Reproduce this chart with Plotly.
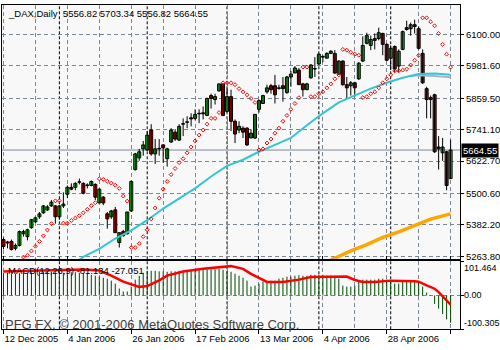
import plotly.graph_objects as go

# ---------------- data ----------------
opens = [5327,5318,5320,5294,5305,5349,5338,5372,5394,5413,5428,5439,5454,5454,5413,5454,5498,5524,5524,5543,
         5539,5531,5531,5535,5465,5487,5424,5413,5439,5316,5357,5349,5435,5591,5635,5669,5665,5740,5650,5669,
         5684,5632,5695,5732,5702,5762,5769,5786,5784,5803,5801,5795,5870,5855,5888,5914,5810,5866,5773,5740,
         5747,5747,5710,5710,5818,5840,5884,5907,5907,5899,5907,5881,5940,5955,5966,5914,5892,5937,5970,5989,
         6015,6011,6029,6029,5951,6000,5911,5907,5918,5933,6000,6067,6059,6085,6085,6104,6063,6011,6055,5981,
         6044,6126,6122,6137,6122,6029,5896,5862,5873,5676,5654,5658,5556.82]
highs = [5335,5322,5327,5312,5361,5364,5368,5405,5413,5431,5457,5457,5476,5457,5457,5505,5531,5539,5543,5557,
         5543,5539,5550,5539,5520,5491,5431,5439,5450,5353,5364,5431,5550,5654,5669,5699,5736,5762,5706,5706,
         5687,5673,5747,5743,5762,5784,5792,5803,5818,5818,5829,5862,5877,5877,5914,5914,5896,5892,5780,5773,
         5754,5751,5743,5799,5855,5873,5911,5914,5948,5911,5940,5944,5963,5981,5974,5918,5918,5989,6015,6029,
         6022,6033,6041,6041,6003,6003,5940,5925,5922,5996,6093,6107,6096,6104,6126,6107,6067,6059,6059,6044,
         6115,6152,6145,6156,6130,6044,5903,5870,5877,5717,5710,5661,5703.34]
lows = [5290,5294,5286,5286,5301,5338,5324,5368,5390,5405,5424,5435,5450,5387,5402,5446,5483,5513,5513,5535,
        5498,5520,5528,5476,5465,5457,5368,5405,5353,5297,5338,5346,5431,5587,5624,5643,5661,5643,5612,5643,
        5617,5602,5691,5699,5699,5717,5747,5754,5777,5766,5780,5792,5821,5836,5884,5792,5806,5736,5691,5728,
        5710,5680,5710,5706,5806,5840,5877,5877,5840,5892,5847,5877,5903,5955,5911,5866,5892,5933,5940,5985,
        5996,6011,6026,5951,5948,5907,5859,5870,5866,5929,5996,6063,6041,6044,6078,6022,6000,5966,5959,5959,
        6041,6115,6096,6104,6044,5914,5784,5784,5654,5591,5624,5513,5556.82]
closes = [5301,5314,5290,5305,5357,5357,5364,5402,5409,5424,5454,5450,5468,5413,5454,5461,5524,5517,5539,5545,
          5502,5533,5546,5487,5517,5465,5405,5435,5353,5353,5342,5431,5546,5650,5658,5684,5721,5650,5669,5671,
          5673,5669,5740,5706,5754,5764,5771,5782,5799,5801,5805,5859,5859,5866,5914,5795,5866,5773,5725,5754,
          5732,5684,5728,5799,5851,5870,5899,5892,5873,5897,5896,5940,5951,5974,5911,5892,5914,5985,5972,6026,
          6017,6029,6037,5955,6000,5911,5899,5918,5899,5992,6059,6096,6081,6078,6107,6063,6003,6048,5970,6037,
          6111,6119,6137,6130,6048,5918,5855,5855,5658,5669,5676,5531,5664.55]

sar = [None]*5 + [5261,5268,5284,5302,5320,5341,5363,5387,5473,5473,
       5389,5389,5399,5408,5417,5428,5441,5455,5466,5556,
       5554,5547,5540,5532,5520,5491,5472,5297,5297,5312,
       5338,5364,5405,5446,5483,5517,5546,5572,5595,5617,
       5632,5654,5676,5699,5721,5740,5762,5784,5784,5806,
       5918,5918,5918,5911,5896,5884,5873,5859,5844,5665,
       5669,5691,5706,5728,5747,5773,5795,5818,5840,5862,
       5977,5977,5866,5866,5877,5884,5899,5914,5933,5948,
       6044,6041,6033,6026,6022,5862,5866,5877,5884,5899,
       5918,5933,5948,5963,5963,5966,5970,5985,6003,6022,
       6163,6163,6148,6133,6104,6063,6026,5977]

ma_cyan_bars = [19,20,24,28,32,36,40,44,48,52,56,60,64,68,72,76,80,84,88,92,96,100,104,108,112]
ma_cyan = [5250,5262,5292,5331,5362,5400,5444,5483,5520,5565,5605,5628,5658,5684,5710,5758,5803,5844,5870,5896,5918,5937,5951,5953,5948]
ma_gray_bars = [102,104,108,112]
ma_gray = [5944,5947,5944,5939]
ma_orange_bars = [82,84,87,91,95,99,103,107,112]
ma_orange = [5250,5265,5284,5308,5335,5356,5380,5404,5424]

macd_hist = [67.3,67.3,64.3,64.3,65.8,67.3,67.3,68.7,68.7,70.2,70.2,70.2,70.2,68.7,67.3,67.3,68.7,68.7,68.7,67.3,
             65.8,64.3,61.4,58.5,55.6,52.6,49.7,43.9,35.1,20.5,11.7,11.7,26.3,46.8,58.5,67.3,73.1,73.1,73.1,71.6,
             71.6,70.2,71.6,71.6,73.1,73.1,74.6,74.6,76.0,76.0,76.0,77.5,77.5,77.5,78.9,76.0,73.1,70.2,64.3,58.5,
             52.6,43.9,26.3,29.2,35.1,40.9,42.4,43.9,43.9,49.7,52.6,55.6,55.6,58.5,59.9,58.5,58.5,61.4,61.4,61.4,
             61.4,58.5,58.5,55.6,49.7,29.2,26.3,26.3,29.2,40.9,46.8,46.8,46.8,46.8,49.7,49.7,46.8,40.9,35.1,35.1,
             40.9,43.9,43.9,43.9,40.9,26.3,8.8,1.0,-25.0,-39.0,-55.0,-71.0,-81.134]
signal_bars = [0,6,12,20,24,27,30,33,34,36,39,41,45,50,54,57,60,62,64,66,70,74,77,86,88,90,93,97,103,104,106,108,109,110,111,112]
signal_vals = [71,73,74,77,74,59,41,29,25,28,45,59,71,79,84,87,79,64,52,40,40,47,55,56,46,40,40,44,42,41,30,20,10,-2,-13,-27.051]

month_starts = [14, 36, 56, 79, 97]
x_tick_bars = [0, 16, 32, 48, 64, 80, 96, 112]
x_tick_labels = ["12 Dec 2005", "4 Jan 2006", "26 Jan 2006", "17 Feb 2006",
                 "13 Mar 2006", "4 Apr 2006", "28 Apr 2006", "23 May 2006"]
x_minor_bars = [8, 24, 40, 56, 72, 88, 104]
price_ticks = [6100.00, 5981.60, 5859.50, 5741.10, 5622.70, 5500.60, 5382.20, 5263.80]
macd_ticks = [101.464, 0.0, -100.305]
macd_labels = ["101.464", "0.00", "-100.305"]
title_text = "_DAX,Daily&nbsp;&nbsp;5556.82 5703.34 5556.82 5664.55"
macd_text = "MACD(12,26,9) -81.134 -27.051"
copyright_text = "PFG FX, \u00a9 2001-2006 MetaQuotes Software Corp."

# ---------------- styling ----------------
FONT = "Liberation Sans"
GRID = "#7b8797"
BG = "#f8f8f8"
UP = "#22dd22"
DOWN = "#e00000"

n = len(opens)
idx = list(range(n))

fig = go.Figure()

# wicks
wx, wy = [], []
for i in idx:
    wx += [i, i, None]
    wy += [lows[i], highs[i], None]
fig.add_trace(go.Scatter(x=wx, y=wy, mode="lines", line=dict(color="black", width=1),
                         hoverinfo="skip", showlegend=False, xaxis="x", yaxis="y"))

# bodies
up_i = [i for i in idx if closes[i] >= opens[i]]
dn_i = [i for i in idx if closes[i] < opens[i]]
fig.add_trace(go.Bar(x=up_i, base=[opens[i] for i in up_i],
                     y=[closes[i] - opens[i] for i in up_i], width=0.75,
                     marker=dict(color=UP, line=dict(color="black", width=1)),
                     showlegend=False, xaxis="x", yaxis="y"))
fig.add_trace(go.Bar(x=dn_i, base=[closes[i] for i in dn_i],
                     y=[opens[i] - closes[i] for i in dn_i], width=0.75,
                     marker=dict(color=DOWN, line=dict(color="black", width=1)),
                     showlegend=False, xaxis="x", yaxis="y"))

# moving averages
fig.add_trace(go.Scatter(x=ma_gray_bars, y=ma_gray, mode="lines",
                         line=dict(color="#a8b4c0", width=2), showlegend=False, xaxis="x", yaxis="y"))
fig.add_trace(go.Scatter(x=ma_cyan_bars, y=ma_cyan, mode="lines",
                         line=dict(color="#33c6d2", width=2), showlegend=False, xaxis="x", yaxis="y"))
fig.add_trace(go.Scatter(x=ma_orange_bars, y=ma_orange, mode="lines",
                         line=dict(color="#ffa500", width=3.5), showlegend=False, xaxis="x", yaxis="y"))

# parabolic SAR
fig.add_trace(go.Scatter(x=idx, y=sar, mode="markers",
                         marker=dict(symbol="diamond-open", size=3, color="#ff0000",
                                     line=dict(color="#ff0000", width=1)),
                         showlegend=False, xaxis="x", yaxis="y"))

# MACD histogram (thin 1px lines from zero) + signal
hx, hy = [], []
for i in idx:
    hx += [i, i, None]
    hy += [0, macd_hist[i], None]
fig.add_trace(go.Scatter(x=hx, y=hy, mode="lines", line=dict(color="#004800", width=1),
                         hoverinfo="skip", showlegend=False, xaxis="x", yaxis="y2"))
fig.add_trace(go.Scatter(x=signal_bars, y=signal_vals, mode="lines",
                         line=dict(color="#ff0000", width=2.5), showlegend=False,
                         xaxis="x", yaxis="y2"))

shapes = []
# current price line
shapes.append(dict(type="line", xref="x domain", x0=0, x1=1, yref="y",
                   y0=closes[-1], y1=closes[-1], line=dict(color="#7b8797", width=1), layer="below"))
# month separators
for m in month_starts:
    for yr in ("y domain", "y2 domain"):
        shapes.append(dict(type="line", xref="x", x0=m, x1=m, yref=yr, y0=0, y1=1,
                           line=dict(color="black", width=1, dash="3px,2px"), layer="below"))

annotations = [
    dict(text=title_text, xref="paper", yref="paper", x=6/500, y=339/350,
         xanchor="left", yanchor="middle", showarrow=False, font=dict(family=FONT, size=9.5, color="black")),
    dict(text=macd_text, xref="paper", yref="paper", x=6/500, y=(350-271)/350,
         xanchor="left", yanchor="middle", showarrow=False, font=dict(family=FONT, size=9.5, color="black")),
    dict(text=copyright_text, xref="paper", yref="paper", x=3/500, y=(350-326)/350,
         xanchor="left", yanchor="middle", showarrow=False, font=dict(family=FONT, size=13, color="#404040")),
    dict(text="%.2f" % closes[-1], xref="x domain", x=1, xanchor="left", xshift=1,
         yref="y", y=closes[-1], yanchor="middle", showarrow=False, bgcolor="black", borderpad=1,
         font=dict(family=FONT, size=9.5, color="white")),
]
shifts = [-7, 0, 6]
for v, t, s in zip(macd_ticks, macd_labels, shifts):
    annotations.append(dict(text=t, xref="x domain", x=1, xanchor="left", xshift=2,
                            yref="y2", y=v, yanchor="middle", yshift=s, showarrow=False,
                            font=dict(family=FONT, size=9, color="black")))

fig.update_layout(
    width=500, height=350, margin=dict(l=0, r=0, t=0, b=0),
    paper_bgcolor="white", plot_bgcolor=BG, barmode="overlay", showlegend=False,
    xaxis=dict(domain=[2/500, 461/500], range=[-0.375, 114.375], anchor="y2",
               tickmode="array", tickvals=x_tick_bars, ticktext=x_tick_labels,
               ticks="outside", ticklen=4, tickcolor="black", ticklabelposition="outside right",
               tickfont=dict(family=FONT, size=9.5, color="black"),
               showgrid=True, gridcolor=GRID, griddash="4px,3px", gridwidth=1,
               minor=dict(tickvals=x_minor_bars, showgrid=True, gridcolor=GRID,
                          griddash="4px,3px", ticks=""),
               showline=True, linecolor="black", linewidth=1, mirror="all", zeroline=False),
    yaxis=dict(domain=[90/350, 348/350], range=[5252.7, 6211.5], anchor="x", side="right",
               tickmode="array", tickvals=price_ticks, ticktext=["%.2f" % p for p in price_ticks],
               ticks="outside", ticklen=3, tickcolor="black",
               tickfont=dict(family=FONT, size=9.5, color="black"),
               showgrid=True, gridcolor=GRID, griddash="4px,3px",
               showline=True, linecolor="black", mirror=True, zeroline=False),
    yaxis2=dict(domain=[19/350, 88/350], range=[-100.305, 101.464], anchor="x", side="right",
                tickmode="array", tickvals=macd_ticks, showticklabels=False,
                ticks="outside", ticklen=3, tickcolor="black",
                showgrid=True, gridcolor=GRID, griddash="4px,3px",
                showline=True, linecolor="black", mirror=True, zeroline=False),
    shapes=shapes, annotations=annotations,
)

fig.write_html("out.html")
